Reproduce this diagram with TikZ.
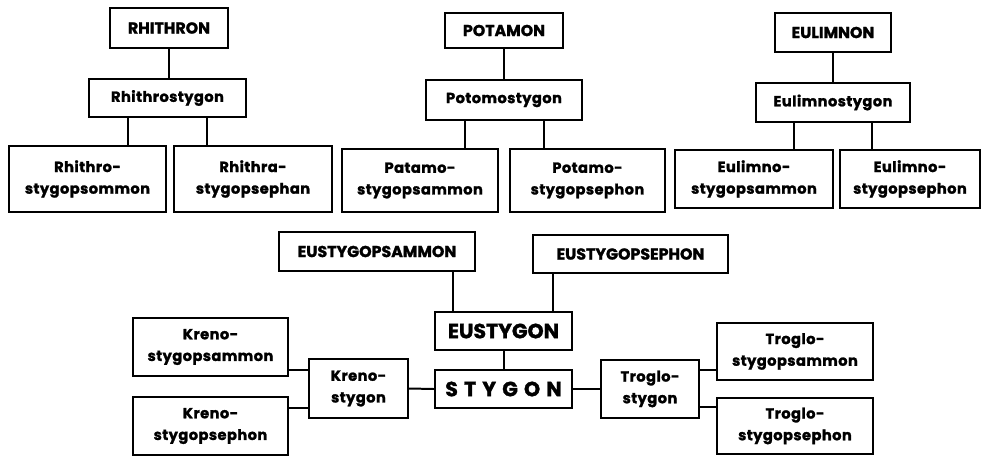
\documentclass[tikz,border=0pt]{standalone}
\usepackage{fontspec}
\setsansfont{Poppins}[BoldFeatures={FakeBold=1.5}]
\usetikzlibrary{calc}

\begin{document}
\begin{tikzpicture}[
  x=0.3mm, y=-0.3mm,
  wh/.style 2 args={minimum width=#1*0.3mm, minimum height=#2*0.3mm},
  box/.style={draw, line width=1.7pt, inner sep=0pt, align=center,
    font=\sffamily\bfseries\fontsize{12.5}{18.5}\selectfont\addfontfeature{LetterSpace=3}},
  capbox/.style={box, font=\sffamily\bfseries\fontsize{13.5}{16}\selectfont},
  widecap/.style={box, font=\sffamily\bfseries\fontsize{13.5}{16}\selectfont},
  bigbox/.style={box, font=\sffamily\bfseries\fontsize{17.5}{20}\selectfont},
  link/.style={line width=1.7pt}
]

%% ── Frame (pixel grid of the page) ───────────────────────────────────
\useasboundingbox[fill=white] (0,0) rectangle (983,456);

%% ── Rhithron branch ──────────────────────────────────────────────────
\node[capbox, wh={118}{40}] (rh)   at (169,28)    {RHITHRON};
\node[box,    wh={157}{38}] (rhs)  at (167.5,98)  {Rhithrostygon};
\node[box,    wh={157}{66}] (rhsa) at (87.5,179)  {Rhithro-\\stygopsommon};
\node[box,    wh={158}{66}] (rhse) at (253,179)   {Rhithra-\\stygopsephan};

%% ── Potamon branch ───────────────────────────────────────────────────
\node[capbox, wh={118}{35}] (po)   at (504,30.5)  {POTAMON};
\node[box,    wh={156}{40}] (pos)  at (504,100)   {Potomostygon};
\node[box,    wh={156}{63}] (posa) at (420,180.5) {Patamo-\\stygopsammon};
\node[box,    wh={155}{63}] (pose) at (587.5,180.5) {Potamo-\\stygopsephon};

%% ── Eulimnon branch ──────────────────────────────────────────────────
\node[capbox, wh={116}{39}] (eu)   at (833,32.5)  {EULIMNON};
\node[box,    wh={154}{39}] (eus)  at (833,102.5) {Eulimnostygon};
\node[box,    wh={158}{58}] (eusa) at (754,179)   {Eulimno-\\stygopsammon};
\node[box,    wh={140}{58}] (euse) at (910,179)   {Eulimno-\\stygopsephon};

%% ── Stygon core ──────────────────────────────────────────────────────
\node[widecap, wh={196}{39}] (esa) at (377,251.5) {EUSTYGOPSAMMON};
\node[widecap, wh={195}{38}] (ese) at (630.5,254) {EUSTYGOPSEPHON};
\node[bigbox,  wh={137}{38}] (es)  at (503.5,331) {EUSTYGON};
\node[bigbox,  wh={137}{38}] (st)  at (503.5,389)
  {\addfontfeature{LetterSpace=30}STYGON};

%% ── Kreno side ───────────────────────────────────────────────────────
\node[box, wh={99}{59}]  (ks)  at (358.5,388.5) {Kreno-\\stygon};
\node[box, wh={155}{58}] (ksa) at (210.5,347)   {Kreno-\\stygopsammon};
\node[box, wh={155}{58}] (kse) at (210.5,426)   {Kreno-\\stygopsephon};

%% ── Troglo side ──────────────────────────────────────────────────────
\node[box, wh={98}{58}]  (ts)  at (650,389)     {Troglo-\\stygon};
\node[box, wh={156}{57}] (tsa) at (795,351.5)   {Troglo-\\stygopsammon};
\node[box, wh={156}{56}] (tse) at (795,426)     {Troglo-\\stygopsephon};

%% ── Links: top branches ──────────────────────────────────────────────
\draw[link] (rh.south) -- (rh.south |- rhs.north);
\draw[link] (po.south) -- (po.south |- pos.north);
\draw[link] (eu.south) -- (eu.south |- eus.north);

\coordinate (rhL) at ($(rhs.south west)!0.25!(rhs.south east)$);
\coordinate (rhR) at ($(rhs.south west)!0.75!(rhs.south east)$);
\coordinate (poL) at ($(pos.south west)!0.25!(pos.south east)$);
\coordinate (poR) at ($(pos.south west)!0.75!(pos.south east)$);
\coordinate (euL) at ($(eus.south west)!0.25!(eus.south east)$);
\coordinate (euR) at ($(eus.south west)!0.75!(eus.south east)$);
\draw[link] (rhL) -- (rhL |- rhsa.north);
\draw[link] (rhR) -- (rhR |- rhse.north);
\draw[link] (poL) -- (poL |- posa.north);
\draw[link] (poR) -- (poR |- pose.north);
\draw[link] (euL) -- (euL |- eusa.north);
\draw[link] (euR) -- (euR |- euse.north);

%% ── Links: Eustygon ──────────────────────────────────────────────────
\coordinate (esL) at ($(es.north west)+(19,0)$);
\coordinate (esR) at ($(es.north east)+(-20,0)$);
\draw[link] (esL) -- (esL |- esa.south);
\draw[link] (esR) -- (esR |- ese.south);
\draw[link] (es.south) -- (st.north);

%% ── Links: Stygon sides ──────────────────────────────────────────────
\draw[link] (ks.east) -- (st.west);
\draw[link] (st.east) -- (ts.west);

\coordinate (ksU) at ($(ks.west)+(0,-19)$);
\coordinate (ksD) at ($(ks.west)+(0,19)$);
\coordinate (tsU) at ($(ts.east)+(0,-19)$);
\coordinate (tsD) at ($(ts.east)+(0,18)$);
\draw[link] (ksU) -- (ksU -| ksa.east);
\draw[link] (ksD) -- (ksD -| kse.east);
\draw[link] (tsU) -- (tsU -| tsa.west);
\draw[link] (tsD) -- (tsD -| tse.west);

\end{tikzpicture}
\end{document}
